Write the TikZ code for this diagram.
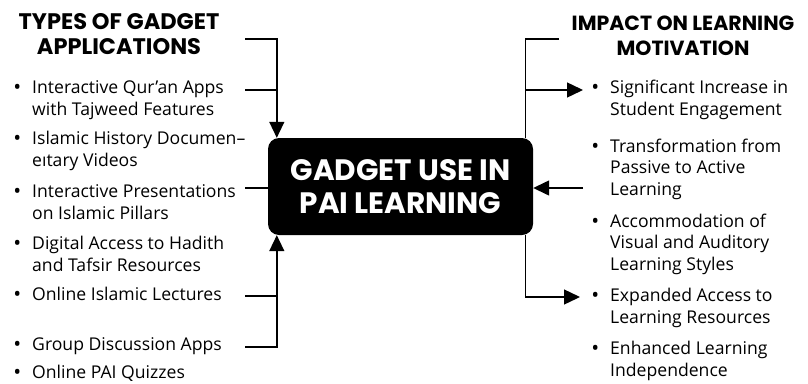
\documentclass[tikz,border=0pt]{standalone}
\usepackage{fontspec}
\setmainfont{Open Sans}
\newfontfamily\titlefont{Poppins}
\usetikzlibrary{arrows.meta,calc}
\tikzset{
  item/.style={anchor=west, align=left, inner sep=0pt, font=\fontsize{17.6}{21.5}\selectfont},
  ttl/.style={align=center, inner sep=0pt, font=\titlefont\bfseries\fontsize{#1}{25}\selectfont},
  ttl/.default=21.5,
  conn/.style={line width=1.4pt},
  arr/.style={conn, -{Triangle[length=16pt,width=15pt]}},
  hub/.style={fill=black, rounded corners=11pt, minimum width=265pt, minimum height=97pt, inner sep=0pt,
    text=white, align=center, font=\titlefont\bfseries\fontsize{29.5}{33}\selectfont}
}
\newcommand{\bul}{\llap{\raisebox{-1pt}{\fontsize{21}{21}\selectfont•}\hspace{11pt}}}
\begin{document}
\begin{tikzpicture}[x=1pt,y=-1pt]
\useasboundingbox[fill=white] (0,0) rectangle (808,383);
% hub
\node[hub] (hub) at (400.5,186.5) {GADGET USE IN\\PAI LEARNING};
% titles
\node[ttl=22.5] (tl) at (119,34) {TYPES OF GADGET\\APPLICATIONS};
\node[ttl=20.5] (tr) at (683,36) {IMPACT ON LEARNING\\MOTIVATION};
% left items
\node[item] (l1) at (32,100) {\bul Interactive Qur’an Apps\\with Tajweed Features};
\node[item] (l2) at (32,151) {\bul Islamic History Documen–\\eıtary Videos};
\node[item] (l3) at (32,202) {\bul Interactive Presentations\\on Islamic Pillars};
\node[item] (l4) at (32,254) {\bul Digital Access to Hadith\\and Tafsir Resources};
\node[item] (l5) at (32,294) {\bul Online Islamic Lectures};
\node[item] (l6) at (32,346) {\bul Group Discussion Apps};
\node[item] (l7) at (32,373) {\bul Online PAI Quizzes};
% right items
\node[item] (r1) at (610,100) {\bul Significant Increase in\\Student Engagement};
\node[item] (r2) at (610,169) {\bul Transformation from\\Passive to Active\\Learning};
\node[item] (r3) at (610,244) {\bul Accommodation of\\Visual and Auditory\\Learning Styles};
\node[item] (r4) at (610,308) {\bul Expanded Access to\\Learning Resources};
\node[item] (r5) at (610,361) {\bul Enhanced Learning\\Independence};
% connector ends
\coordinate (a1) at (245,39);
\coordinate (a2) at (245,90);
\coordinate (a3) at (245,188);
\coordinate (a4) at (245,296);
\coordinate (a5) at (245,347);
\coordinate (b0) at (559,39);
\coordinate (b1) at (583,90);
\coordinate (b2) at (583,188);
\coordinate (b4) at (580,297);
% left connectors
\draw[arr] (a1) -| ($(hub.north west)+(9,0)$);
\draw[conn] (a2) -- (a2 -| {$(hub.north west)+(9,0)$});
\draw[conn] (a3) -- (a3 -| hub.west);
\draw[arr] (a5) -| ($(hub.south west)+(9,0)$);
\draw[conn] (a4) -- (a4 -| {$(hub.south west)+(9,0)$});
% right connectors
\draw[conn] (b0) -| ($(hub.north east)+(-8,0)$);
\draw[arr] (b1 -| {$(hub.north east)+(-8,0)$}) -- (b1);
\draw[arr] (b2) -- (b2 -| hub.east);
\draw[arr] ($(hub.south east)+(-8,0)$) |- (b4);
\end{tikzpicture}
\end{document}
